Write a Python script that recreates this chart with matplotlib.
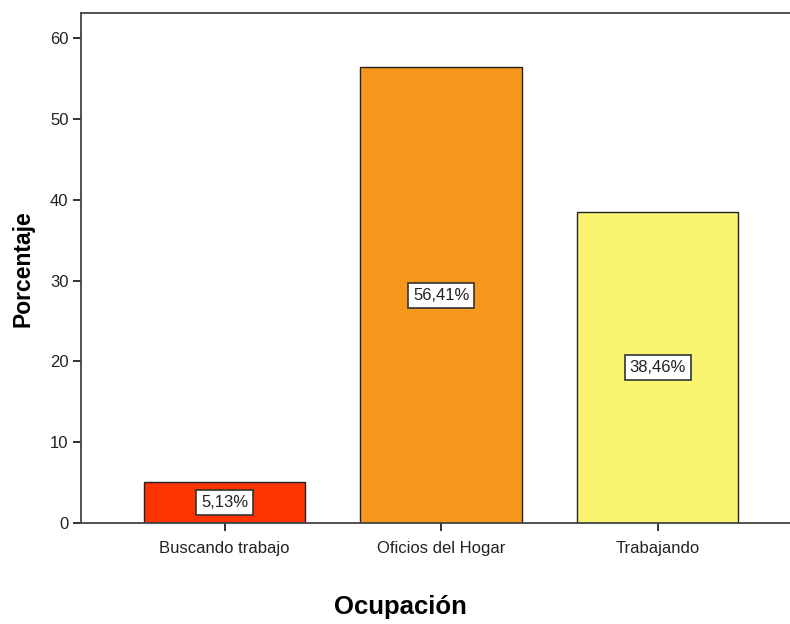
import matplotlib.pyplot as plt

plt.rcParams['font.family'] = ['Liberation Sans', 'DejaVu Sans']

# occupation categories and their percentages
categorias = ['Buscando trabajo', 'Oficios del Hogar', 'Trabajando']
porcentajes = [5.13, 56.41, 38.46]
colores = ['#FF3300', '#F7981D', '#FAF570']

fig = plt.figure(figsize=(7.9, 6.24), dpi=100)
ax = fig.add_axes([0.1025, 0.1619, 0.9, 0.8171])

pos = range(len(categorias))
ax.bar(pos, porcentajes, width=0.746, color=colores, edgecolor='#222222', linewidth=1.0)

# value labels in the middle of each bar
for x, v in zip(pos, porcentajes):
    ax.text(x, v / 2, f'{v:.2f}%'.replace('.', ','), ha='center', va='center',
            fontsize=12, color='#222222',
            bbox=dict(boxstyle='square,pad=0.3', fc='white', ec='#333333', lw=1.2))

ax.set_xlim(-0.664, 2.62)
ax.set_ylim(0, 63.1)
ax.set_yticks([0, 10, 20, 30, 40, 50, 60])
ax.set_xticks(list(pos))
ax.set_xticklabels(categorias)

ax.spines['right'].set_visible(False)
for s in ['left', 'top', 'bottom']:
    ax.spines[s].set_color('#444444')
    ax.spines[s].set_linewidth(1.3)

ax.tick_params(axis='both', labelsize=12, colors='#222222', length=6, width=1.3)
ax.tick_params(axis='y', pad=3)
ax.tick_params(axis='x', pad=7)

ax.set_ylabel('Porcentaje', fontsize=16.5, fontweight='bold', va='center')
ax.yaxis.set_label_coords(-0.082, 0.499)
ax.set_xlabel('Ocupación', fontsize=18.5, fontweight='bold', va='center')
ax.xaxis.set_label_coords(0.449, -0.164)

fig.savefig('out.png', dpi=100)
